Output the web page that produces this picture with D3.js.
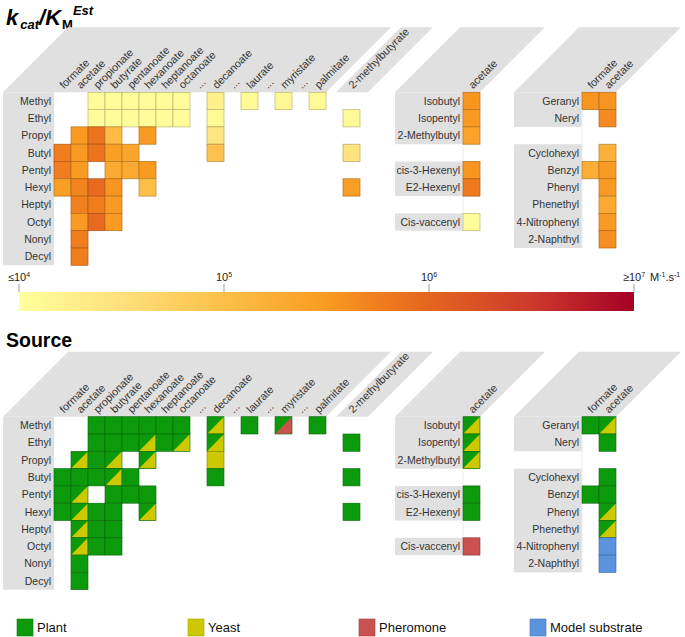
<!DOCTYPE html>
<html><head><meta charset="utf-8">
<script src="https://cdn.jsdelivr.net/npm/d3@7/dist/d3.min.js"></script>
<style>
html,body{margin:0;padding:0;background:#fff;}
svg{display:block;font-family:"Liberation Sans",Arial,sans-serif;}
</style></head>
<body>
<svg id="chart" width="685" height="637"></svg>
<script>
// ---------------- DATA ----------------
const acylLabels = ["formate","acetate","propionate","butyrate","pentanoate","hexanoate","heptanoate","octanoate","...","decanoate","...","laurate","...","myristate","...","palmitate","","2-methylbutyrate"];
const alcohols = ["Methyl","Ethyl","Propyl","Butyl","Pentyl","Hexyl","Heptyl","Octyl","Nonyl","Decyl"];

// log10(kcat/KM) estimates for straight-chain esters [alcohol, acyl, value]
const kcatLinear = [
  ["Methyl","propionate",4.05],["Methyl","butyrate",4.05],["Methyl","pentanoate",4.05],["Methyl","hexanoate",4.05],["Methyl","heptanoate",4.05],["Methyl","octanoate",4.05],["Methyl","decanoate",4.25],["Methyl","laurate",4.1],["Methyl","myristate",4.12],["Methyl","palmitate",4.1],
  ["Ethyl","propionate",4.05],["Ethyl","butyrate",4.05],["Ethyl","pentanoate",4.05],["Ethyl","hexanoate",4.05],["Ethyl","heptanoate",4.05],["Ethyl","octanoate",4.05],["Ethyl","decanoate",4.1],["Ethyl","2-methylbutyrate",4.08],
  ["Propyl","acetate",5.5],["Propyl","propionate",5.85],["Propyl","butyrate",5.05],["Propyl","hexanoate",5.5],["Propyl","decanoate",4.4],
  ["Butyl","formate",5.75],["Butyl","acetate",5.5],["Butyl","propionate",5.85],["Butyl","butyrate",5.45],["Butyl","pentanoate",5.35],["Butyl","decanoate",4.95],["Butyl","2-methylbutyrate",4.45],
  ["Pentyl","formate",5.75],["Pentyl","acetate",5.5],["Pentyl","butyrate",5.3],["Pentyl","pentanoate",5.3],["Pentyl","hexanoate",5.5],
  ["Hexyl","formate",5.45],["Hexyl","acetate",5.7],["Hexyl","propionate",5.95],["Hexyl","butyrate",5.55],["Hexyl","hexanoate",5.0],["Hexyl","2-methylbutyrate",5.45],
  ["Heptyl","acetate",5.72],["Heptyl","propionate",5.75],["Heptyl","butyrate",5.5],
  ["Octyl","acetate",5.5],["Octyl","propionate",5.95],["Octyl","butyrate",5.5],
  ["Nonyl","acetate",5.75],
  ["Decyl","acetate",5.75]
];
// source codes: P plant, Y yeast, R pheromone, M model substrate; two letters = split cell
const sourceLinear = [
  ["Methyl","propionate","P"],["Methyl","butyrate","P"],["Methyl","pentanoate","P"],["Methyl","hexanoate","P"],["Methyl","heptanoate","P"],["Methyl","octanoate","P"],["Methyl","decanoate","PY"],["Methyl","laurate","P"],["Methyl","myristate","PR"],["Methyl","palmitate","P"],
  ["Ethyl","propionate","P"],["Ethyl","butyrate","P"],["Ethyl","pentanoate","P"],["Ethyl","hexanoate","PY"],["Ethyl","heptanoate","P"],["Ethyl","octanoate","PY"],["Ethyl","decanoate","PY"],["Ethyl","2-methylbutyrate","P"],
  ["Propyl","acetate","PY"],["Propyl","propionate","P"],["Propyl","butyrate","PY"],["Propyl","hexanoate","PY"],["Propyl","decanoate","Y"],
  ["Butyl","formate","P"],["Butyl","acetate","P"],["Butyl","propionate","P"],["Butyl","butyrate","PY"],["Butyl","pentanoate","P"],["Butyl","decanoate","P"],["Butyl","2-methylbutyrate","P"],
  ["Pentyl","formate","P"],["Pentyl","acetate","PY"],["Pentyl","butyrate","P"],["Pentyl","pentanoate","P"],["Pentyl","hexanoate","P"],
  ["Hexyl","formate","P"],["Hexyl","acetate","PY"],["Hexyl","propionate","P"],["Hexyl","butyrate","P"],["Hexyl","hexanoate","PY"],["Hexyl","2-methylbutyrate","P"],
  ["Heptyl","acetate","PY"],["Heptyl","propionate","P"],["Heptyl","butyrate","P"],
  ["Octyl","acetate","PY"],["Octyl","propionate","P"],["Octyl","butyrate","P"],
  ["Nonyl","acetate","P"],
  ["Decyl","acetate","P"]
];

const branchedRows = ["Isobutyl","Isopentyl","2-Methylbutyl",null,"cis-3-Hexenyl","E2-Hexenyl",null,"Cis-vaccenyl"];
const branchedAcetateKcat = [5.55,5.5,5.4,null,5.55,5.8,null,4.05];
const branchedAcetateSource = ["PY","PY","PY",null,"P","P",null,"R"];

const cyclicRows = ["Geranyl","Neryl",null,"Cyclohexyl","Benzyl","Phenyl","Phenethyl","4-Nitrophenyl","2-Naphthyl"];
const cyclicCols = ["formate","acetate"];
const cyclicFormateKcat = [5.55,null,null,null,5.25,null,null,null,null];
const cyclicAcetateKcat = [5.55,5.65,null,5.2,5.5,5.5,5.3,5.5,5.6];
const cyclicFormateSource = ["P",null,null,null,"P",null,null,null,null];
const cyclicAcetateSource = ["PY","P",null,"P","P","PY","PY","M","M"];

const colorDomain = [4,4.5,5,5.5,5.75,6,6.5,7];
const colorRange = ["#ffff9c","#fee07c","#fdbf48","#f99b22","#f07e1e","#e5651f","#cc3a2c","#a50026"];
const colorTickValues = [4,5,6,7];
const colorTickLabels = [["≤10","4"],["10","5"],["10","6"],["≥10","7"]];

const sourceNames = ["Plant","Yeast","Pheromone","Model substrate"];
const sourceCodes = ["P","Y","R","M"];
const sourceColors = ["#0c9a0c","#cdc800","#c9514f","#5a93de"];

// ---------------- LAYOUT ----------------
const svg = d3.select("#chart");
const GRAY = "#e0e0e0";
const CW = 17, RH = 17.3, Y0 = 92.3, HH = 65;
const color = d3.scaleLinear().domain(colorDomain).range(colorRange).clamp(true);
const srcColor = d3.scaleOrdinal().domain(sourceCodes).range(sourceColors);

const xMain = d3.scaleBand().domain(d3.range(acylLabels.length)).range([54, 54 + CW*acylLabels.length]);
const yMain = d3.scaleBand().domain(alcohols).range([Y0, Y0 + RH*alcohols.length]);
const xBr = d3.scaleBand().domain(["acetate"]).range([463, 480]);
const yBr = d3.scaleBand().domain(d3.range(branchedRows.length)).range([Y0, Y0 + RH*branchedRows.length]);
const xCy = d3.scaleBand().domain(cyclicCols).range([582, 616]);
const yCy = d3.scaleBand().domain(d3.range(cyclicRows.length)).range([Y0, Y0 + RH*cyclicRows.length]);

function header(g, xl, xr) {
  g.append("polygon")
    .attr("points", [[xl,Y0],[xl+HH,Y0-HH],[xr+HH,Y0-HH],[xr,Y0]].map(p=>p.join(",")).join(" "))
    .attr("fill", GRAY);
}
function colLabel(g, cx, text) {
  g.append("text").attr("transform", `translate(${cx+1.5},${Y0-3}) rotate(-45)`)
    .attr("font-size", 10.8).attr("fill", "#333").text(text);
}
function rowLabel(g, xr, cy, text) {
  g.append("text").attr("x", xr).attr("y", cy).attr("dy", "0.35em")
    .attr("text-anchor", "end").attr("font-size", 10.5).attr("fill", "#333").text(text);
}
function groups(rows) {
  const out = []; let cur = null;
  rows.forEach((r, i) => {
    if (r) { if (!cur) { cur = [i, i]; out.push(cur); } else cur[1] = i; }
    else cur = null;
  });
  return out;
}
function kcatCell(g, x, y, w, h, v) {
  const c = color(v);
  g.append("rect").attr("x", x).attr("y", y).attr("width", w).attr("height", h)
    .attr("fill", c).attr("stroke", d3.color(c).darker(0.9)).attr("stroke-width", 0.7);
}
function srcCell(g, x, y, w, h, code) {
  const c1 = srcColor(code[0]);
  g.append("rect").attr("x", x).attr("y", y).attr("width", w).attr("height", h).attr("fill", c1);
  if (code.length > 1) {
    const c2 = srcColor(code[1]);
    g.append("polygon").attr("points", `${x+w},${y} ${x+w},${y+h} ${x},${y+h}`).attr("fill", c2);
  }
  g.append("rect").attr("x", x).attr("y", y).attr("width", w).attr("height", h)
    .attr("fill", "none").attr("stroke", d3.color(c1).darker(1.1)).attr("stroke-width", 0.6);
}

function drawBlock(dy, mode) {
  const g = svg.append("g").attr("transform", `translate(0,${dy})`);
  const mainRight = xMain(15) + CW;
  header(g, 3, mainRight);
  const mbx = xMain(17);
  header(g, mbx - 7, mbx + CW + 8);
  header(g, 395, xBr.range()[1]);
  header(g, 514, xCy.range()[1]);
  g.append("rect").attr("x", 3).attr("y", Y0).attr("width", 54-3).attr("height", RH*alcohols.length).attr("fill", GRAY);
  groups(branchedRows).forEach(([a,b]) => g.append("rect").attr("x",395).attr("y",yBr(a)).attr("width",463-395).attr("height",yBr(b)+RH-yBr(a)).attr("fill",GRAY));
  groups(cyclicRows).forEach(([a,b]) => g.append("rect").attr("x",514).attr("y",yCy(a)).attr("width",582-514).attr("height",yCy(b)+RH-yCy(a)).attr("fill",GRAY));
  g.append("line").attr("x1",463).attr("x2",463).attr("y1",Y0).attr("y2",yBr(branchedRows.length-1)+RH).attr("stroke","#ececec");
  g.append("line").attr("x1",582).attr("x2",582).attr("y1",Y0).attr("y2",yCy(cyclicRows.length-1)+RH).attr("stroke","#ececec");
  acylLabels.forEach((l, i) => { if (l) colLabel(g, xMain(i) + CW/2, l); });
  colLabel(g, xBr("acetate") + CW/2, "acetate");
  cyclicCols.forEach(c => colLabel(g, xCy(c) + CW/2, c));
  alcohols.forEach(a => rowLabel(g, 51, yMain(a) + RH/2, a));
  branchedRows.forEach((r, i) => { if (r) rowLabel(g, 460, yBr(i) + RH/2, r); });
  cyclicRows.forEach((r, i) => { if (r) rowLabel(g, 579, yCy(i) + RH/2, r); });
  if (mode === "kcat") {
    kcatLinear.forEach(([a, c, v]) => kcatCell(g, xMain(acylLabels.indexOf(c)), yMain(a), CW, RH, v));
    branchedAcetateKcat.forEach((v, i) => { if (v != null) kcatCell(g, xBr("acetate"), yBr(i), CW, RH, v); });
    cyclicFormateKcat.forEach((v, i) => { if (v != null) kcatCell(g, xCy("formate"), yCy(i), CW, RH, v); });
    cyclicAcetateKcat.forEach((v, i) => { if (v != null) kcatCell(g, xCy("acetate"), yCy(i), CW, RH, v); });
  } else {
    sourceLinear.forEach(([a, c, s]) => srcCell(g, xMain(acylLabels.indexOf(c)), yMain(a), CW, RH, s));
    branchedAcetateSource.forEach((s, i) => { if (s) srcCell(g, xBr("acetate"), yBr(i), CW, RH, s); });
    cyclicFormateSource.forEach((s, i) => { if (s) srcCell(g, xCy("formate"), yCy(i), CW, RH, s); });
    cyclicAcetateSource.forEach((s, i) => { if (s) srcCell(g, xCy("acetate"), yCy(i), CW, RH, s); });
  }
}

// ---------------- TITLES ----------------
const t1 = svg.append("text").attr("x", 6).attr("y", 25).attr("font-weight", "bold").attr("fill", "#000");
t1.append("tspan").attr("font-size", 22).attr("font-style", "italic").text("k");
t1.append("tspan").attr("font-size", 13).attr("font-style", "italic").attr("dx", 2).attr("dy", 4).text("cat");
t1.append("tspan").attr("font-size", 22).attr("font-style", "italic").attr("dy", -4).text("/K");
t1.append("tspan").attr("font-size", 13).attr("dx", 1).attr("dy", 4).text("M");
t1.append("tspan").attr("font-size", 13).attr("font-style", "italic").attr("dy", -14).text("Est");

svg.append("text").attr("x", 6).attr("y", 347).attr("font-size", 19.5).attr("font-weight", "bold").attr("fill", "#000").text("Source");

drawBlock(0, "kcat");
drawBlock(324.4, "source");

// ---------------- COLOR BAR ----------------
const cx = d3.scaleLinear().domain([4, 7]).range([19, 634]);
const defs = svg.append("defs");
const grad = defs.append("linearGradient").attr("id", "cbar").attr("x1", "0%").attr("x2", "100%");
colorDomain.forEach((d, i) => grad.append("stop").attr("offset", ((d-4)/3*100) + "%").attr("stop-color", colorRange[i]));
svg.append("rect").attr("x", cx(4)).attr("y", 292).attr("width", cx(7)-cx(4)).attr("height", 19).attr("fill", "url(#cbar)");
const cg = svg.append("g");
colorTickValues.forEach((v, i) => {
  cg.append("line").attr("x1", cx(v)).attr("x2", cx(v)).attr("y1", 284).attr("y2", 292).attr("stroke", "#999");
  const t = cg.append("text").attr("x", cx(v)).attr("y", 281).attr("text-anchor", "middle").attr("font-size", 11).attr("fill", "#222");
  t.append("tspan").text(colorTickLabels[i][0]);
  t.append("tspan").attr("font-size", 7).attr("dy", -4).text(colorTickLabels[i][1]);
});
const ut = cg.append("text").attr("x", 650).attr("y", 281).attr("font-size", 11).attr("fill", "#222");
ut.append("tspan").text("M");
ut.append("tspan").attr("font-size", 7).attr("dy", -4).text("-1");
ut.append("tspan").attr("dy", 4).text(".s");
ut.append("tspan").attr("font-size", 7).attr("dy", -4).text("-1");

// ---------------- LEGEND ----------------
const lx = d3.scalePoint().domain(sourceNames).range([17, 530]);
const lg = svg.append("g");
sourceNames.forEach((n, i) => {
  const c = sourceColors[i];
  lg.append("rect").attr("x", lx(n)).attr("y", 619).attr("width", 16).attr("height", 17)
    .attr("fill", c).attr("stroke", d3.color(c).darker(0.6)).attr("stroke-width", 0.6);
  lg.append("text").attr("x", lx(n) + 20).attr("y", 632).attr("font-size", 13).attr("fill", "#111").text(n);
});
</script>
</body></html>
